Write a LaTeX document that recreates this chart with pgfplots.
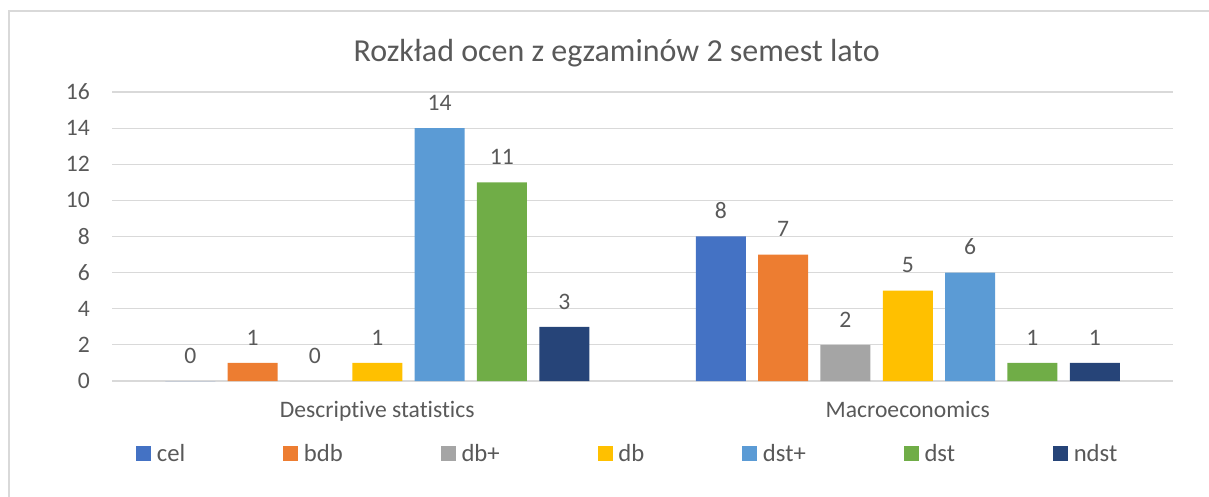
\documentclass[border=0pt]{standalone}
\usepackage{fontspec}
\setmainfont{Carlito}[Ligatures=NoCommon]
\usepackage{pgfplots}
\pgfplotsset{compat=1.18}
\definecolor{cel}{HTML}{4472C4}
\definecolor{bdb}{HTML}{ED7D31}
\definecolor{dbp}{HTML}{A5A5A5}
\definecolor{db}{HTML}{FFC000}
\definecolor{dstp}{HTML}{5B9BD5}
\definecolor{dst}{HTML}{70AD47}
\definecolor{ndst}{HTML}{264478}
\definecolor{txt}{HTML}{595959}
\definecolor{gridc}{HTML}{D9D9D9}
\begin{document}
\begin{tikzpicture}
\useasboundingbox (0,0) rectangle (906.75pt,372pt);
\draw[gridc, line width=1.5pt] (7.1pt,-5pt) -- (7.1pt,364.1pt) -- (915pt,364.1pt);
\node[anchor=base west, text=txt, font=\fontsize{24}{28}\selectfont, inner sep=0pt] at (265pt,325.5pt) {Rozkład ocen z egzaminów 2 semest lato};
\begin{axis}[
  at={(84pt,86.25pt)}, anchor=south west,
  scale only axis, width=795.75pt, height=216.75pt,
  xmin=-0.5, xmax=1.5, ymin=0, ymax=16,
  ybar=9.25pt, bar width=37.5pt,
  xtick={0,1}, xticklabels={Descriptive statistics, Macroeconomics},
  ytick={0,2,...,16},
  axis line style={draw=none}, major tick length=0pt,
  ymajorgrids, grid style={gridc, line width=0.9pt},
  tick label style={text=txt, font=\fontsize{17.7}{21}\selectfont},
  /pgf/number format/assume math mode=true,
  yticklabel style={inner sep=0pt, anchor=east, xshift=-16.5pt},
  xticklabel style={inner sep=0pt, anchor=base, yshift=-27.5pt},
  nodes near coords,
  every node near coord/.append style={text=txt, font=\fontsize{17.7}{21}\selectfont, inner sep=0pt, anchor=base, yshift=13.3pt},
  legend columns=7,
  legend image code/.code={\fill[#1] (0pt,-6pt) rectangle (11.25pt,5.25pt); \path (15.5pt,0pt);},
  legend style={at={(axis description cs:0.02262,-0.22145)}, anchor=north west, draw=none, fill=none, inner sep=0pt,
    font=\fontsize{18.5}{22}\selectfont, text=txt,
    nodes={inner sep=0pt, text height=12pt, text depth=0pt},
    /tikz/every even column/.append style={column sep=73.5pt}},
]
\addplot[fill=cel, draw=none] coordinates {(0,0) (1,8)};
\addplot[fill=bdb, draw=none] coordinates {(0,1) (1,7)};
\addplot[fill=dbp, draw=none] coordinates {(0,0) (1,2)};
\addplot[fill=db, draw=none] coordinates {(0,1) (1,5)};
\addplot[fill=dstp, draw=none] coordinates {(0,14) (1,6)};
\addplot[fill=dst, draw=none] coordinates {(0,11) (1,1)};
\addplot[fill=ndst, draw=none] coordinates {(0,3) (1,1)};
\legend{cel, bdb, db+, db, dst+, dst, ndst}
\end{axis}
\end{tikzpicture}
\end{document}
